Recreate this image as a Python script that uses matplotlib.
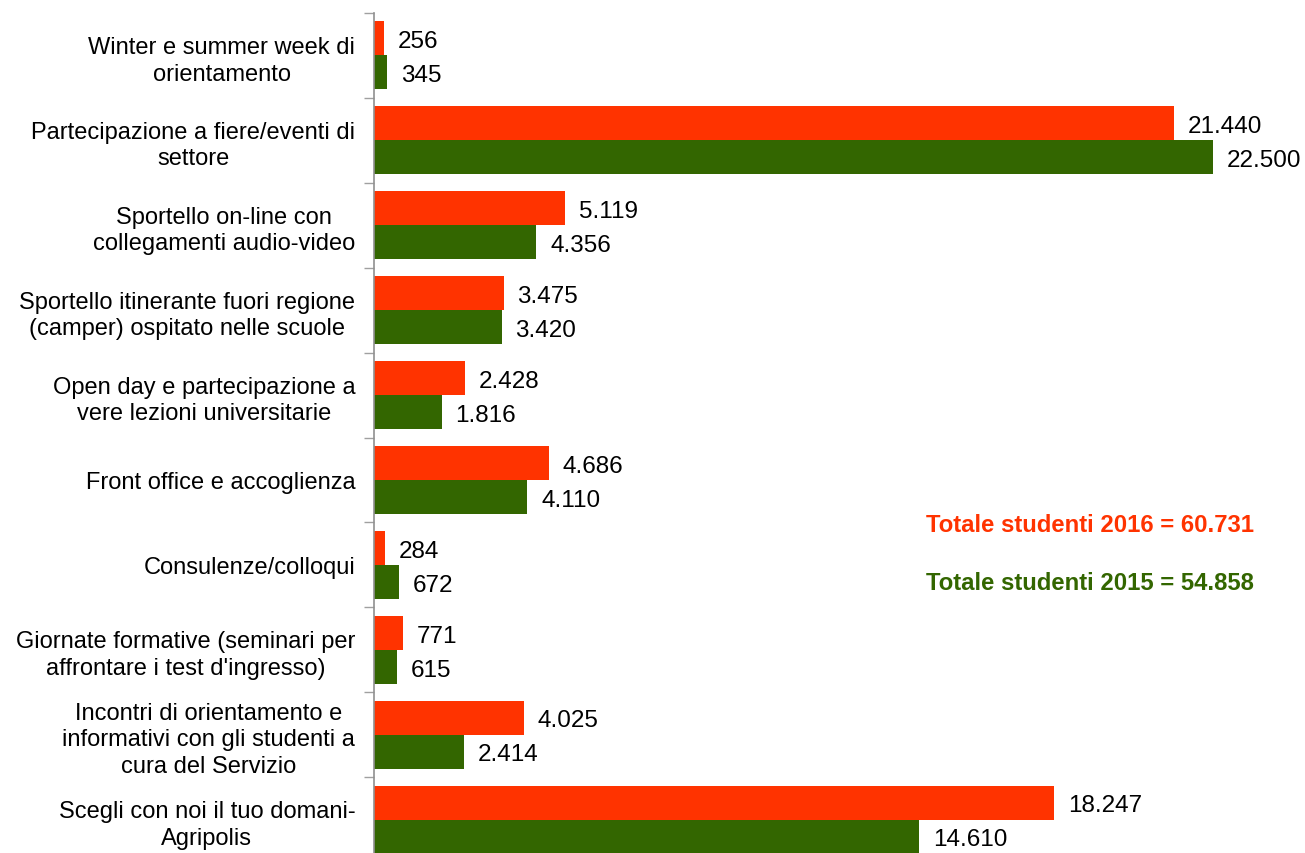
import matplotlib.pyplot as plt
import numpy as np

# Categories from top to bottom
categories = [
    'Winter e summer week di\norientamento',
    'Partecipazione a fiere/eventi di\nsettore',
    'Sportello on-line con\ncollegamenti audio-video',
    'Sportello itinerante fuori regione\n(camper) ospitato nelle scuole',
    'Open day e partecipazione a\nvere lezioni universitarie',
    'Front office e accoglienza',
    'Consulenze/colloqui',
    'Giornate formative (seminari per\naffrontare i test d\'ingresso)',
    'Incontri di orientamento e\ninformativi con gli studenti a\ncura del Servizio',
    'Scegli con noi il tuo domani-\nAgripolis',
]
values_2016 = [256, 21440, 5119, 3475, 2428, 4686, 284, 771, 4025, 18247]
values_2015 = [345, 22500, 4356, 3420, 1816, 4110, 672, 615, 2414, 14610]
total_2016 = '60.731'
total_2015 = '54.858'

red = '#FF3300'
green = '#336600'

plt.rcParams['font.family'] = ['Liberation Sans', 'DejaVu Sans']

fig = plt.figure(figsize=(13.05, 8.54), dpi=100)
ax = fig.add_axes([374 / 1305, 1 - 863 / 854, (1285 - 374) / 1305, (863 - 14) / 854])

n = len(categories)
y = np.arange(n)[::-1]
h = 0.4

bars16 = ax.barh(y + h / 2, values_2016, height=h, color=red)
bars15 = ax.barh(y - h / 2, values_2015, height=h, color=green)


def fmt(v):
    return f'{v:,}'.replace(',', '.')


# Value labels to the right of each bar
for bars, vals in [(bars16, values_2016), (bars15, values_2015)]:
    for bar, v in zip(bars, vals):
        ax.annotate(fmt(v), xy=(bar.get_width(), bar.get_y() + bar.get_height() / 2),
                    xytext=(10, -2), textcoords='offset points',
                    ha='left', va='center', fontsize=17.5, color='black')

ax.set_ylim(-0.5, n - 0.5)
ax.set_xlim(0, 24430)

ax.set_yticks(y)
ax.set_yticklabels(categories, fontsize=17, multialignment='center', linespacing=1.27)
ax.tick_params(axis='y', which='major', length=0, pad=13.5)
ax.set_yticks(np.arange(n + 1) - 0.5, minor=True)
ax.tick_params(axis='y', which='minor', length=7, color='#A0A0A0', width=1)

ax.xaxis.set_visible(False)
for side in ['top', 'right', 'bottom']:
    ax.spines[side].set_visible(False)
ax.spines['left'].set_color('#909090')
ax.spines['left'].set_linewidth(1.2)

# Totals
fig.text(926 / 1305, 1 - 525 / 854, f'Totale studenti 2016 = {total_2016}',
         color=red, fontsize=17.2, fontweight='bold', va='center', ha='left')
fig.text(926 / 1305, 1 - 584 / 854, f'Totale studenti 2015 = {total_2015}',
         color=green, fontsize=17.2, fontweight='bold', va='center', ha='left')

plt.savefig('out.png', dpi=100)
plt.close()
